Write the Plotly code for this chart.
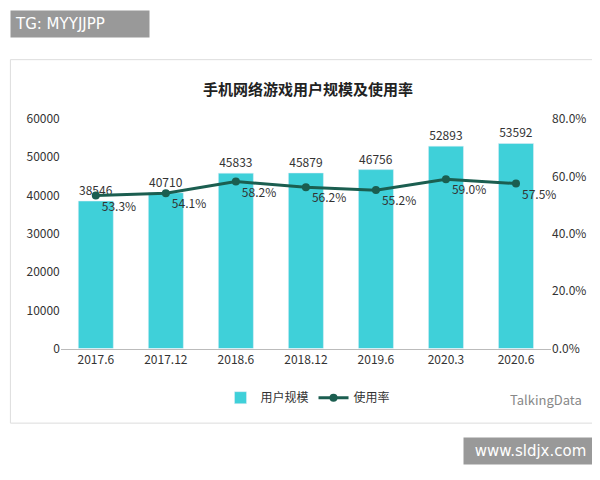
import plotly.graph_objects as go

categories = ["2017.6", "2017.12", "2018.6", "2018.12", "2019.6", "2020.3", "2020.6"]
users = [38546, 40710, 45833, 45879, 46756, 52893, 53592]
rate = [53.3, 54.1, 58.2, 56.2, 55.2, 59.0, 57.5]
rate_labels = [f"{v:.1f}%" for v in rate]

font = "Noto Sans CJK SC"
fig = go.Figure()
fig.add_trace(go.Bar(x=categories, y=users, name="用户规模", marker_color="#3fd0d9",
                     width=0.5, text=[str(v) for v in users], textposition="outside",
                     textfont=dict(size=12, color="#333"), cliponaxis=False))
fig.add_trace(go.Scatter(x=categories, y=rate, name="使用率", yaxis="y2",
                         mode="lines+markers+text", line=dict(color="#1b5e50", width=3),
                         marker=dict(size=8, color="#1b5e50"), text=rate_labels,
                         textposition="bottom right", textfont=dict(size=12, color="#333"),
                         cliponaxis=False))
fig.update_layout(
    width=600, height=480, margin=dict(l=0, r=0, t=0, b=0),
    paper_bgcolor="white", plot_bgcolor="white",
    font=dict(family=font, size=12, color="#333"),
    title=dict(text="<b>手机网络游戏用户规模及使用率</b>", x=0.5, y=0.84, xanchor="center",
               font=dict(size=15, color="#222")),
    xaxis=dict(domain=[0.088, 0.905], showline=True, linecolor="#bbb", tickfont=dict(size=12)),
    yaxis=dict(domain=[0.286, 0.782], range=[0, 60000], dtick=10000, tickformat="d",
               showgrid=False, zeroline=False, tickfont=dict(size=12)),
    yaxis2=dict(overlaying="y", side="right", range=[0, 80], dtick=20, ticksuffix=".0%",
                showgrid=False, zeroline=False, tickfont=dict(size=12)),
    legend=dict(orientation="h", x=0.5, xanchor="center", y=0.18, yanchor="middle",
                font=dict(size=12)),
    shapes=[dict(type="rect", xref="paper", yref="paper", x0=0.004, x1=0.983, y0=0.125, y1=0.91,
                 line=dict(color="#ddd", width=1))],
    annotations=[
        dict(text="TG: MYYJJPP", xref="paper", yref="paper", x=0.004, y=1.0, xanchor="left",
             yanchor="top", showarrow=False, bgcolor="#999", font=dict(color="white", size=15,
             family="DejaVu Sans"), borderpad=4, width=130, align="left", yshift=8),
        dict(text="www.sldjx.com", xref="paper", yref="paper", x=0.983, y=0.065, xanchor="right",
             yanchor="middle", showarrow=False, bgcolor="#999", font=dict(color="white", size=15,
             family="DejaVu Sans"), borderpad=4, width=125),
        dict(text="TalkingData", xref="paper", yref="paper", x=0.96, y=0.175, xanchor="right",
             yanchor="middle", showarrow=False, font=dict(color="#888", size=13)),
    ],
)
fig.write_html("out.html")
